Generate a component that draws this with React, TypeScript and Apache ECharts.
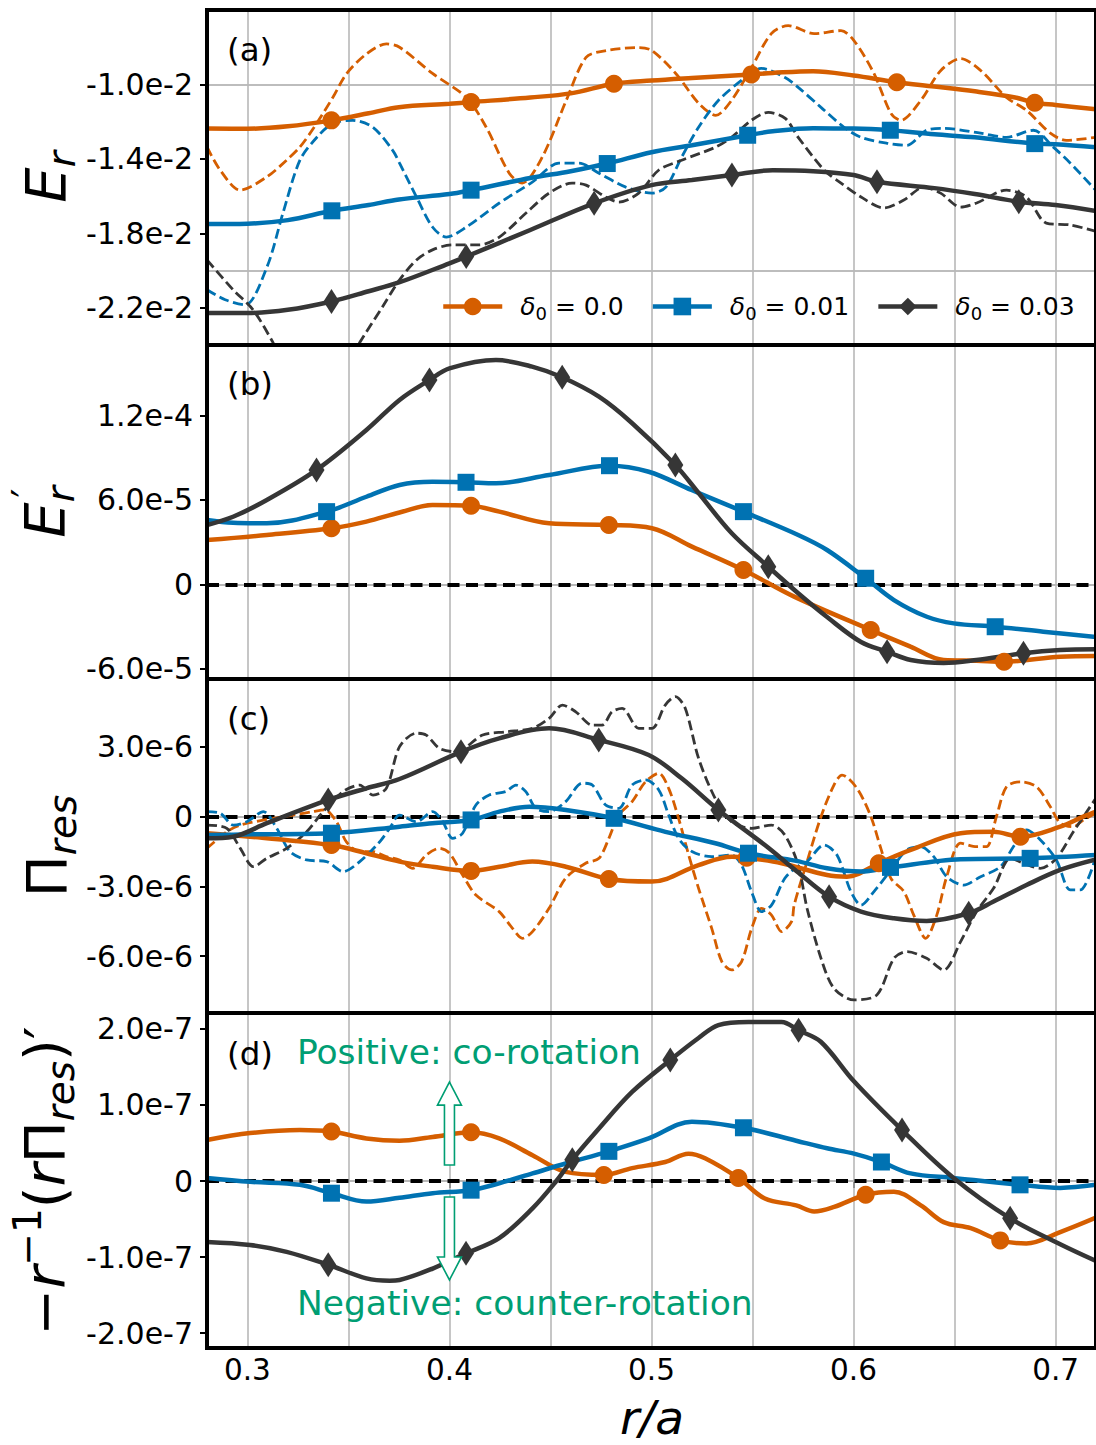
import React, { useEffect, useRef } from 'react';
import * as echarts from 'echarts';

// ---------------- data ----------------
const X_TICKS = [0.3, 0.4, 0.5, 0.6, 0.7];
const X_GRID = [0.3, 0.35, 0.4, 0.45, 0.5, 0.55, 0.6, 0.65, 0.7];
const Y_TICKS_A = [-0.022, -0.018, -0.014, -0.01];
const Y_TICKS_B = [-6e-5, 0, 6e-5, 1.2e-4];
const Y_TICKS_C = [-6e-6, -3e-6, 0, 3e-6];
const Y_TICKS_D = [-2e-7, -1e-7, 0, 1e-7, 2e-7];
const SERIES_NAMES = ['δ0 = 0.0', 'δ0 = 0.01', 'δ0 = 0.03'];

// Panel (a): E_r, values in units of 1e-2
const aOrange = [[0.28,-1.237],[0.30,-1.238],[0.32,-1.225],[0.36,-1.155],[0.375,-1.122],[0.40,-1.104],[0.44,-1.07],[0.46,-1.048],[0.50,-0.979],[0.52,-0.965],[0.56,-0.938],[0.58,-0.929],[0.60,-0.952],[0.64,-1.011],[0.66,-1.037],[0.68,-1.07],[0.70,-1.11],[0.72,-1.134]];
const aOrangeMk = [[0.3416,-1.193],[0.4107,-1.095],[0.4814,-0.996],[0.5494,-0.946],[0.6214,-0.988],[0.6897,-1.098]];
const aBlue = [[0.28,-1.75],[0.30,-1.748],[0.32,-1.729],[0.36,-1.648],[0.375,-1.618],[0.40,-1.589],[0.44,-1.503],[0.46,-1.466],[0.50,-1.364],[0.52,-1.327],[0.56,-1.252],[0.58,-1.236],[0.60,-1.237],[0.64,-1.268],[0.66,-1.284],[0.70,-1.321],[0.72,-1.337]];
const aBlueMk = [[0.3418,-1.679],[0.4107,-1.568],[0.4781,-1.425],[0.5476,-1.273],[0.6182,-1.246],[0.6897,-1.318]];
const aDark = [[0.28,-2.228],[0.30,-2.228],[0.32,-2.211],[0.36,-2.111],[0.375,-2.064],[0.40,-1.961],[0.44,-1.782],[0.50,-1.541],[0.52,-1.514],[0.56,-1.461],[0.58,-1.466],[0.60,-1.487],[0.64,-1.557],[0.66,-1.589],[0.70,-1.648],[0.72,-1.68]];
const aDarkMk = [[0.3416,-2.166],[0.4083,-1.925],[0.4716,-1.639],[0.5398,-1.487],[0.6116,-1.523],[0.6818,-1.63]];
const aOrangeDash = [[0.28,-1.336],[0.2865,-1.46],[0.2964,-1.568],[0.3096,-1.497],[0.3194,-1.407],[0.326,-1.336],[0.3326,-1.237],[0.3424,-1.068],[0.349,-0.943],[0.3589,-0.836],[0.3688,-0.782],[0.3753,-0.8],[0.3916,-0.941],[0.4084,-1.07],[0.4182,-1.23],[0.4296,-1.477],[0.436,-1.53],[0.4459,-1.391],[0.4578,-1.086],[0.4676,-0.855],[0.4775,-0.818],[0.4938,-0.802],[0.5002,-0.818],[0.512,-0.941],[0.5234,-1.102],[0.5318,-1.166],[0.5396,-1.086],[0.5495,-0.909],[0.5593,-0.727],[0.5677,-0.684],[0.5805,-0.727],[0.5938,-0.711],[0.6002,-0.764],[0.6101,-0.941],[0.6185,-1.155],[0.6234,-1.193],[0.6333,-1.086],[0.6432,-0.925],[0.653,-0.861],[0.6629,-0.925],[0.6757,-1.07],[0.6856,-1.139],[0.6974,-1.262],[0.7053,-1.3],[0.72,-1.284]];
const aBlueDash = [[0.28,-2.103],[0.289,-2.157],[0.2989,-2.184],[0.3097,-1.98],[0.3176,-1.691],[0.326,-1.407],[0.3344,-1.284],[0.3423,-1.209],[0.3522,-1.193],[0.3621,-1.23],[0.3719,-1.354],[0.3753,-1.423],[0.3837,-1.605],[0.3916,-1.766],[0.3985,-1.82],[0.4084,-1.766],[0.4247,-1.637],[0.441,-1.525],[0.4542,-1.423],[0.4641,-1.423],[0.474,-1.477],[0.4873,-1.552],[0.5002,-1.584],[0.5071,-1.552],[0.5149,-1.391],[0.5233,-1.23],[0.5331,-1.086],[0.5464,-0.963],[0.5543,-0.914],[0.5661,-0.963],[0.5726,-1.016],[0.5839,-1.123],[0.5953,-1.23],[0.6037,-1.284],[0.6165,-1.316],[0.6264,-1.327],[0.6362,-1.246],[0.6446,-1.236],[0.6629,-1.262],[0.6757,-1.284],[0.689,-1.246],[0.6989,-1.337],[0.7073,-1.423],[0.72,-1.57]];
const aDarkDash = [[0.28,-1.943],[0.2929,-2.103],[0.3028,-2.211],[0.3127,-2.387],[0.3211,-2.559],[0.3309,-2.666],[0.3408,-2.639],[0.3482,-2.532],[0.3556,-2.387],[0.3669,-2.194],[0.3753,-2.05],[0.3837,-1.943],[0.3916,-1.889],[0.4015,-1.862],[0.4148,-1.862],[0.4247,-1.82],[0.4379,-1.691],[0.4493,-1.584],[0.4607,-1.53],[0.4676,-1.541],[0.4774,-1.605],[0.4838,-1.632],[0.4937,-1.584],[0.5035,-1.461],[0.5149,-1.407],[0.5317,-1.337],[0.5396,-1.284],[0.5494,-1.193],[0.5578,-1.15],[0.5662,-1.182],[0.5726,-1.284],[0.5855,-1.461],[0.5938,-1.53],[0.6037,-1.605],[0.615,-1.664],[0.6249,-1.621],[0.6348,-1.552],[0.6431,-1.584],[0.653,-1.659],[0.6609,-1.637],[0.6757,-1.568],[0.6856,-1.605],[0.6954,-1.745],[0.7073,-1.755],[0.72,-1.79]];

// Panel (b): E_r', values in units of 1e-5
const bOrange = [[0.28,3.15],[0.3096,3.51],[0.3589,4.46],[0.3753,5.11],[0.3916,5.64],[0.4247,5.17],[0.4493,4.34],[0.5002,3.99],[0.52,2.68],[0.5706,-0.88],[0.6282,-4.44],[0.6446,-5.39],[0.6609,-5.44],[0.7023,-5.15],[0.72,-5.1]];
const bOrangeMk = [[0.3416,3.99],[0.4107,5.59],[0.4789,4.22],[0.5455,1.02],[0.6085,-3.25],[0.6745,-5.51]];
const bBlue = [[0.28,4.58],[0.2929,4.38],[0.3096,4.34],[0.3589,6.23],[0.3753,7.07],[0.3916,7.3],[0.423,7.19],[0.4493,7.78],[0.4986,8.01],[0.5198,6.71],[0.5726,3.51],[0.5869,2.44],[0.62,-1.12],[0.6363,-2.31],[0.6496,-2.78],[0.6939,-3.37],[0.72,-3.75]];
const bBlueMk = [[0.3392,5.17],[0.4082,7.26],[0.4792,8.44],[0.5455,5.17],[0.606,0.43],[0.6701,-3.02]];
const bDark = [[0.28,4.22],[0.2929,4.81],[0.3096,6.0],[0.3589,10.98],[0.3753,13.12],[0.40,15.37],[0.423,15.96],[0.4409,15.49],[0.474,13.35],[0.4903,11.48],[0.5234,6.48],[0.5396,3.65],[0.5726,-0.64],[0.5869,-2.33],[0.6037,-4.11],[0.6283,-5.39],[0.6446,-5.6],[0.6608,-5.39],[0.7023,-4.68],[0.72,-4.62]];
const bDarkMk = [[0.3342,8.14],[0.3901,14.54],[0.4558,14.73],[0.5118,8.49],[0.5578,1.25],[0.6166,-4.8],[0.6841,-4.91]];

// Panel (c): Pi_res, values in units of 1e-6
const cOrange = [[0.28,-0.71],[0.3013,-0.86],[0.3589,-1.57],[0.3753,-1.93],[0.3916,-2.15],[0.4247,-2.15],[0.441,-1.93],[0.4576,-2.15],[0.5002,-2.79],[0.5233,-2.08],[0.5397,-1.72],[0.5644,-2.0],[0.5869,-2.51],[0.5967,-2.58],[0.6283,-1.43],[0.653,-0.71],[0.6693,-0.65],[0.7023,-0.43],[0.7137,0.0],[0.72,0.22]];
const cOrangeMk = [[0.3416,-1.22],[0.4107,-2.33],[0.4789,-2.68],[0.5471,-1.76],[0.6125,-2.0],[0.6826,-0.86]];
const cBlue = [[0.28,-0.79],[0.3013,-0.76],[0.3753,-0.43],[0.3916,-0.28],[0.4247,0.22],[0.4395,0.43],[0.4576,0.29],[0.5069,-0.65],[0.5316,-1.14],[0.5716,-1.9],[0.5869,-2.22],[0.6037,-2.36],[0.653,-1.83],[0.72,-1.65]];
const cBlueMk = [[0.3416,-0.71],[0.4107,-0.14],[0.4815,-0.07],[0.548,-1.57],[0.6183,-2.18],[0.6874,-1.79]];
const cDark = [[0.28,-0.93],[0.2929,-0.86],[0.3096,-0.28],[0.3589,1.22],[0.3753,1.62],[0.4246,3.37],[0.4493,3.8],[0.4986,2.65],[0.5149,1.65],[0.5561,-1.22],[0.5717,-2.33],[0.6037,-4.08],[0.62,-4.37],[0.6362,-4.48],[0.6693,-3.65],[0.6856,-2.94],[0.7023,-2.29],[0.72,-1.84]];
const cDarkMk = [[0.34,0.72],[0.4057,2.79],[0.4739,3.3],[0.5331,0.29],[0.5879,-3.44],[0.657,-4.15]];
const cOrangeDash = [[0.28,-1.36],[0.2898,-0.65],[0.2964,-0.36],[0.3128,-0.07],[0.3227,0.07],[0.3326,0.22],[0.3383,0.29],[0.3441,-0.22],[0.349,-1.08],[0.3556,-1.5],[0.3621,-1.5],[0.3687,-1.72],[0.3753,-1.86],[0.3819,-2.22],[0.3885,-1.65],[0.395,-1.36],[0.4,-1.57],[0.4065,-2.51],[0.4131,-3.37],[0.4246,-4.08],[0.4312,-4.8],[0.4361,-5.23],[0.4411,-4.94],[0.4493,-3.94],[0.4575,-2.65],[0.4674,-2.0],[0.474,-1.79],[0.4789,-0.93],[0.4838,0.07],[0.4904,0.65],[0.497,1.5],[0.5036,1.87],[0.5085,1.22],[0.5134,-0.07],[0.5184,-1.65],[0.5233,-3.08],[0.5298,-4.8],[0.5348,-6.23],[0.5397,-6.59],[0.5446,-6.23],[0.5496,-4.8],[0.5545,-3.94],[0.5594,-4.23],[0.5644,-4.94],[0.5693,-4.51],[0.5706,-3.8],[0.577,-1.93],[0.5839,0.0],[0.5903,1.36],[0.5943,1.79],[0.6017,1.22],[0.6086,0.0],[0.6135,-1.36],[0.6185,-2.65],[0.6249,-3.22],[0.6298,-4.23],[0.6357,-5.23],[0.6412,-4.23],[0.6461,-2.58],[0.653,-1.14],[0.6609,-1.29],[0.6658,-1.29],[0.6707,0.0],[0.6757,1.29],[0.6826,1.5],[0.6905,1.29],[0.6974,0.43],[0.7023,-0.28],[0.7088,-0.43],[0.7137,-0.14],[0.72,0.15]];
const cBlueDash = [[0.28,0.22],[0.2865,0.15],[0.2931,-0.36],[0.2997,-0.22],[0.3079,0.22],[0.3145,-0.5],[0.3211,-1.5],[0.3293,-1.86],[0.3392,-1.93],[0.3474,-2.36],[0.3556,-1.93],[0.3655,-1.08],[0.3704,-0.5],[0.3753,0.07],[0.3836,-0.22],[0.3917,0.22],[0.3967,-0.22],[0.4016,-0.93],[0.4065,-0.71],[0.4131,0.5],[0.4197,0.93],[0.4279,1.08],[0.4329,1.36],[0.4378,1.08],[0.4427,0.36],[0.4493,0.22],[0.4575,0.65],[0.4657,1.44],[0.4707,1.36],[0.4773,0.5],[0.4838,0.36],[0.4904,1.36],[0.497,1.58],[0.5036,1.15],[0.5085,0.07],[0.5134,-0.93],[0.52,-1.5],[0.5298,-1.72],[0.5397,-1.65],[0.5446,-2.08],[0.5495,-3.22],[0.5545,-4.08],[0.5594,-3.8],[0.566,-2.65],[0.5726,-2.12],[0.577,-1.93],[0.5854,-1.22],[0.5918,-1.65],[0.5987,-3.22],[0.6037,-3.8],[0.6101,-3.22],[0.6185,-2.29],[0.6264,-1.43],[0.6333,-1.29],[0.6397,-1.72],[0.6461,-2.58],[0.6545,-2.94],[0.6629,-2.58],[0.6727,-2.15],[0.6791,-1.29],[0.6856,-0.57],[0.6925,-1.0],[0.7004,-1.86],[0.7073,-3.15],[0.7122,-3.15],[0.72,-1.7]];
const cDarkDash = [[0.28,-0.36],[0.2898,-0.5],[0.2964,-1.35],[0.303,-2.15],[0.3096,-1.79],[0.3194,-1.36],[0.3293,-0.65],[0.3375,0.22],[0.3474,1.08],[0.3556,1.36],[0.3622,0.93],[0.3688,1.23],[0.3753,3.01],[0.3836,3.59],[0.3885,3.51],[0.395,2.94],[0.4033,2.79],[0.4164,3.51],[0.4279,3.65],[0.4411,3.8],[0.4493,4.23],[0.4559,4.8],[0.4625,4.51],[0.4707,3.94],[0.4756,3.94],[0.4805,4.51],[0.4855,4.66],[0.4937,3.8],[0.5002,3.8],[0.5068,4.8],[0.5118,5.16],[0.5167,4.66],[0.5233,2.51],[0.5315,0.79],[0.5397,-0.22],[0.5496,-0.5],[0.5594,-0.36],[0.566,-0.79],[0.5726,-2.08],[0.577,-3.94],[0.5839,-6.09],[0.5903,-7.38],[0.6002,-7.88],[0.6116,-7.66],[0.62,-6.09],[0.6264,-5.8],[0.6362,-6.09],[0.6446,-6.59],[0.653,-5.37],[0.6609,-4.08],[0.6693,-3.08],[0.6777,-1.79],[0.6841,-2.0],[0.6925,-2.22],[0.7004,-1.79],[0.7088,-0.65],[0.72,0.8]];

// Panel (d): -r^-1 (r Pi_res)', values in units of 1e-7
const dOrange = [[0.28,0.54],[0.3013,0.63],[0.326,0.67],[0.3589,0.56],[0.3753,0.53],[0.3917,0.58],[0.4246,0.56],[0.4411,0.34],[0.4575,0.12],[0.4904,0.17],[0.5068,0.25],[0.5183,0.36],[0.5265,0.3],[0.5561,-0.23],[0.5716,-0.32],[0.5805,-0.4],[0.5904,-0.34],[0.62,-0.14],[0.6333,-0.32],[0.6446,-0.54],[0.658,-0.62],[0.6855,-0.82],[0.7023,-0.67],[0.72,-0.48]];
const dOrangeMk = [[0.3416,0.65],[0.4107,0.64],[0.4764,0.08],[0.543,0.04],[0.606,-0.18],[0.6726,-0.78]];
const dBlue = [[0.28,0.04],[0.3013,-0.01],[0.326,-0.05],[0.3589,-0.27],[0.3753,-0.22],[0.3917,-0.16],[0.4246,-0.03],[0.4411,0.1],[0.4575,0.23],[0.4986,0.56],[0.52,0.78],[0.5716,0.53],[0.5869,0.43],[0.6002,0.36],[0.6282,0.1],[0.6495,0.04],[0.7023,-0.09],[0.72,-0.05]];
const dBlueMk = [[0.3416,-0.16],[0.4107,-0.12],[0.4789,0.39],[0.5455,0.7],[0.6138,0.25],[0.6824,-0.05]];
const dDark = [[0.28,-0.8],[0.3013,-0.84],[0.3194,-0.93],[0.3589,-1.28],[0.3704,-1.31],[0.3753,-1.3],[0.3917,-1.15],[0.4246,-0.75],[0.4411,-0.36],[0.4526,-0.01],[0.474,0.69],[0.4904,1.17],[0.5233,1.88],[0.5331,2.05],[0.5479,2.09],[0.5644,2.09],[0.5838,1.83],[0.6002,1.31],[0.6495,0.04],[0.7023,-0.83],[0.72,-1.05]];
const dDarkMk = [[0.34,-1.1],[0.4082,-0.95],[0.4608,0.28],[0.5093,1.59],[0.5728,1.98],[0.624,0.67],[0.6775,-0.49]];

// annotation anchors (data coordinates of panel d)
const ARROW_X = 0.4;
const ARROW_UP = [0.21e-7, 1.3e-7];
const ARROW_DOWN = [-0.21e-7, -1.3e-7];
const NOTE_POS = [[0.3245, 1.7e-7], [0.3245, -1.6e-7]];
const NOTES = ['Positive: co-rotation', 'Negative: counter-rotation'];

// ---------------- styling ----------------
const ORANGE = '#D55E00';
const BLUE = '#0072B2';
const DARK = '#363636';
const GREEN = '#009E73';
const FONT = 'DejaVu Sans';
const SCALES = [1e-2, 1e-5, 1e-6, 1e-7];
const Y_RANGES = [[-0.024, -0.006], [-6.74e-5, 1.703e-4], [-8.44e-6, 5.92e-6], [-2.194e-7, 2.208e-7]];
const Y_TICKS = [Y_TICKS_A, Y_TICKS_B, Y_TICKS_C, Y_TICKS_D];
const GRID_TOP = [10, 345, 679, 1013];
const GRID_H = [335, 334, 334, 335];
const GRID_LEFT = 207;
const GRID_W = 892;

const fmtY = (v: number) => (v === 0 ? '0' : v.toExponential(1));

function solidSeries(nameIdx: number, color: string, symbol: string, size: any, pts: number[][], mk: number[][], gi: number) {
  const s = SCALES[gi];
  const all = pts.map((p) => ({ x: p[0], y: p[1], m: false }))
    .concat(mk.map((p) => ({ x: p[0], y: p[1], m: true })))
    .sort((a, b) => a.x - b.x);
  return {
    type: 'line',
    name: SERIES_NAMES[nameIdx],
    xAxisIndex: gi,
    yAxisIndex: gi,
    smooth: 0.35,
    symbol,
    symbolSize: size,
    showSymbol: true,
    z: 5,
    lineStyle: { color, width: 4.5 },
    itemStyle: { color, borderWidth: 0 },
    emphasis: { disabled: true },
    data: all.map((d) => (d.m ? { value: [d.x, d.y * s] } : { value: [d.x, d.y * s], symbol: 'none' })),
  };
}

function dashSeries(color: string, pts: number[][], gi: number) {
  const s = SCALES[gi];
  return {
    type: 'line',
    name: 'dash-' + gi + color,
    xAxisIndex: gi,
    yAxisIndex: gi,
    smooth: 0.3,
    symbol: 'none',
    z: 4,
    lineStyle: { color, width: 2.8, type: [10, 4.5] },
    emphasis: { disabled: true },
    data: pts.map((p) => [p[0], p[1] * s]),
  };
}

function gridLineSeries(gi: number) {
  return {
    type: 'line',
    name: 'grid-' + gi,
    xAxisIndex: gi,
    yAxisIndex: gi,
    data: [],
    silent: true,
    markLine: {
      silent: true,
      z: 1,
      symbol: ['none', 'none'],
      label: { show: false },
      emphasis: { disabled: true },
      lineStyle: { color: '#b8b8b8', width: 1.6, type: 'solid' },
      data: [...X_GRID.map((x) => ({ xAxis: x })), ...Y_TICKS[gi].map((y) => ({ yAxis: y }))],
    },
  };
}

function zeroLineSeries(gi: number) {
  return {
    type: 'line',
    name: 'zero-' + gi,
    xAxisIndex: gi,
    yAxisIndex: gi,
    data: [],
    silent: true,
    markLine: {
      silent: true,
      z: 3,
      symbol: ['none', 'none'],
      label: { show: false },
      emphasis: { disabled: true },
      lineStyle: { color: '#000', width: 4, type: [12, 6.5] },
      data: [{ yAxis: 0 }],
    },
  };
}

function buildOption() {
  const grids = [0, 1, 2, 3].map((i) => ({
    left: GRID_LEFT,
    top: GRID_TOP[i],
    width: GRID_W,
    height: GRID_H[i],
    show: true,
    z: 10,
    backgroundColor: 'transparent',
    borderColor: '#000',
    borderWidth: 4,
  }));
  const xAxes = [0, 1, 2, 3].map((i) => ({
    type: 'value',
    gridIndex: i,
    min: 0.28,
    max: 0.72,
    axisLine: { show: false },
    splitLine: { show: false },
    axisTick: i === 3
      ? { show: true, length: 7, lineStyle: { color: '#000', width: 2 }, customValues: X_TICKS }
      : { show: false },
    axisLabel: i === 3
      ? { show: true, customValues: X_TICKS, formatter: (v: number) => v.toFixed(1), fontSize: 29.5, color: '#000', fontFamily: FONT, margin: 7 }
      : { show: false },
  }));
  const yAxes = [0, 1, 2, 3].map((i) => ({
    type: 'value',
    gridIndex: i,
    min: Y_RANGES[i][0],
    max: Y_RANGES[i][1],
    axisLine: { show: false },
    splitLine: { show: false },
    axisTick: { show: true, length: 7, lineStyle: { color: '#000', width: 2 }, customValues: Y_TICKS[i] },
    axisLabel: { show: true, customValues: Y_TICKS[i], formatter: fmtY, fontSize: 30, color: '#000', fontFamily: FONT, margin: 14 },
  }));

  const series: any[] = [];
  [0, 1, 2, 3].forEach((i) => series.push(gridLineSeries(i)));
  [1, 2, 3].forEach((i) => series.push(zeroLineSeries(i)));
  const CIRC = 18;
  const SQ = 17;
  const DIA = [16, 25];
  // panel a
  series.push(dashSeries(ORANGE, aOrangeDash, 0), dashSeries(BLUE, aBlueDash, 0), dashSeries(DARK, aDarkDash, 0));
  series.push(
    solidSeries(0, ORANGE, 'circle', CIRC, aOrange, aOrangeMk, 0),
    solidSeries(1, BLUE, 'rect', SQ, aBlue, aBlueMk, 0),
    solidSeries(2, DARK, 'diamond', DIA, aDark, aDarkMk, 0),
  );
  // panel b
  series.push(
    solidSeries(0, ORANGE, 'circle', CIRC, bOrange, bOrangeMk, 1),
    solidSeries(1, BLUE, 'rect', SQ, bBlue, bBlueMk, 1),
    solidSeries(2, DARK, 'diamond', DIA, bDark, bDarkMk, 1),
  );
  // panel c
  series.push(dashSeries(ORANGE, cOrangeDash, 2), dashSeries(BLUE, cBlueDash, 2), dashSeries(DARK, cDarkDash, 2));
  series.push(
    solidSeries(0, ORANGE, 'circle', CIRC, cOrange, cOrangeMk, 2),
    solidSeries(1, BLUE, 'rect', SQ, cBlue, cBlueMk, 2),
    solidSeries(2, DARK, 'diamond', DIA, cDark, cDarkMk, 2),
  );
  // panel d
  series.push(
    solidSeries(0, ORANGE, 'circle', CIRC, dOrange, dOrangeMk, 3),
    solidSeries(1, BLUE, 'rect', SQ, dBlue, dBlueMk, 3),
    solidSeries(2, DARK, 'diamond', DIA, dDark, dDarkMk, 3),
  );

  return {
    animation: false,
    backgroundColor: '#fff',
    grid: grids,
    xAxis: xAxes,
    yAxis: yAxes,
    legend: {
      data: SERIES_NAMES,
      left: 436,
      top: 289,
      selectedMode: false,
      itemWidth: 59,
      itemHeight: 22,
      itemGap: 27,
      lineStyle: { width: 4.5 },
      formatter: (n: string) => `{d|δ}{s|0}{t| = ${n.split('= ')[1]}}`,
      textStyle: {
        fontFamily: FONT,
        fontSize: 25,
        color: '#000',
        padding: [0, 0, 0, 13],
        rich: {
          d: { fontFamily: FONT, fontStyle: 'italic', fontSize: 25, lineHeight: 32 },
          s: { fontFamily: FONT, fontSize: 18, lineHeight: 16, verticalAlign: 'bottom' },
          t: { fontFamily: FONT, fontSize: 25, lineHeight: 32 },
        },
      },
    },
    series,
  };
}

const MAIN = 56;
const SUB = 39;
const richName = {
  i: { fontFamily: FONT, fontStyle: 'italic', fontSize: MAIN, lineHeight: 72, fill: '#000' },
  n: { fontFamily: FONT, fontSize: MAIN, lineHeight: 72, fill: '#000' },
  sub: { fontFamily: FONT, fontStyle: 'italic', fontSize: SUB, lineHeight: 40, verticalAlign: 'bottom', fill: '#000' },
  sup: { fontFamily: FONT, fontSize: SUB, lineHeight: 40, verticalAlign: 'top', fill: '#000' },
};

function yName(text: string, x: number, y: number) {
  return {
    type: 'text',
    x,
    y,
    rotation: Math.PI / 2,
    silent: true,
    style: { text, rich: richName, align: 'center', verticalAlign: 'middle', fill: '#000' },
  };
}

function plainText(text: string, x: number, y: number, size: number, color: string, extra: any = {}) {
  return {
    type: 'text',
    x,
    y,
    silent: true,
    style: { text, fontFamily: FONT, fontSize: size, fill: color, align: 'left', verticalAlign: 'middle', ...extra },
  };
}

function arrow(base: number[], tip: number[]) {
  const dir = tip[1] < base[1] ? 1 : -1; // 1 = pointing up
  const x = base[0];
  const hw = 5;
  const hh = 12;
  const hl = 23;
  const hb = tip[1] + dir * hl;
  return {
    type: 'polygon',
    silent: true,
    z: 20,
    shape: {
      points: [[x - hw, base[1]], [x - hw, hb], [x - hh, hb], [x, tip[1]], [x + hh, hb], [x + hw, hb], [x + hw, base[1]]],
    },
    style: { fill: '#fff', stroke: GREEN, lineWidth: 1.6 },
  };
}

export default function App() {
  const ref = useRef<HTMLDivElement>(null);
  useEffect(() => {
    document.body.style.margin = '0';
    const chart = echarts.init(ref.current!, null, { renderer: 'svg' });
    chart.setOption(buildOption() as any);
    const px = (x: number, y: number) => chart.convertToPixel({ gridIndex: 3 }, [x, y]) as number[];
    const upB = px(ARROW_X, ARROW_UP[0]);
    const upT = px(ARROW_X, ARROW_UP[1]);
    const dnB = px(ARROW_X, ARROW_DOWN[0]);
    const dnT = px(ARROW_X, ARROW_DOWN[1]);
    const n1 = px(NOTE_POS[0][0], NOTE_POS[0][1]);
    const n2 = px(NOTE_POS[1][0], NOTE_POS[1][1]);
    const letters = ['(a)', '(b)', '(c)', '(d)'];
    const letterY = [50, 384, 719, 1054];
    chart.setOption({
      graphic: [
        ...letters.map((l, i) => ({ ...plainText(l, 227, letterY[i], 32.5, '#000'), z: 20 })),
        yName('{i|E}{sub|r}', 45, 177),
        yName('{i|E}{sub|r}', 44, 512),
        {
          type: 'text',
          x: 27,
          y: 493,
          rotation: Math.PI / 2,
          silent: true,
          style: { text: '′', fontFamily: FONT, fontSize: 40, fill: '#000', align: 'center', verticalAlign: 'middle' },
        },
        yName('{n|Π}{sub|res}', 46, 846),
        yName('{n|−}{i|r}{sup|−1}{n|(}{i|r}{n|Π}{sub|res}{n|)′}', 44, 1181),
        {
          type: 'text',
          x: 652,
          y: 1417.5,
          silent: true,
          style: { text: 'r/a', fontFamily: FONT, fontStyle: 'italic', fontSize: 47, fill: '#000', align: 'center', verticalAlign: 'middle' },
        },
        { ...plainText(NOTES[0], n1[0], n1[1], 34.5, GREEN), z: 20 },
        { ...plainText(NOTES[1], n2[0], n2[1], 34.5, GREEN), z: 20 },
        arrow(upB, upT),
        arrow(dnB, dnT),
      ],
    });
    return () => chart.dispose();
  }, []);
  return <div ref={ref} style={{ width: 1096, height: 1445 }} />;
}
